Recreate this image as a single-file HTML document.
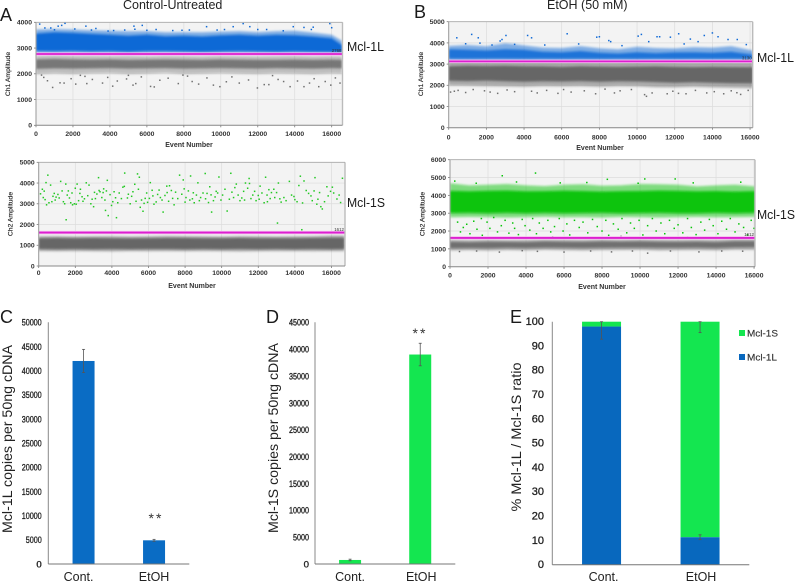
<!DOCTYPE html>
<html lang="en">
<head>
<meta charset="utf-8">
<title>Mcl-1L and Mcl-1S droplet digital PCR</title>
<style>
  html, body { margin: 0; padding: 0; background: #fff; }
  #figure { display: block; width: 796px; height: 582px; overflow: hidden; filter: blur(0.3px); }
  text { font-family: "Liberation Sans", sans-serif; fill: #222; }
  .panel-letter { font-size: 18px; fill: #1a1a1a; }
  .panel-title { font-size: 12.5px; }
  .target { font-size: 13px; fill: #1a1a1a; }
  .scatter-x-title { font-size: 7px; font-weight: bold; fill: #333; text-anchor: middle; }
  .scatter-y-title { font-size: 6.8px; fill: #222; text-anchor: middle; stroke: #222; stroke-width: 0.15; }
  .bar-y-title { font-size: 14px; fill: #222; text-anchor: middle; }
  .stars { font-size: 14px; letter-spacing: 2px; text-anchor: middle; fill: #333; }
  .legend-text { font-size: 9.6px; fill: #333; stroke: #333; stroke-width: 0.15; }
</style>
</head>
<body>
<svg id="figure" xmlns="http://www.w3.org/2000/svg" width="796" height="582" viewBox="0 0 796 582">
  <defs>
    <filter id="band-soft" x="-5%" y="-30%" width="110%" height="160%">
      <feGaussianBlur stdDeviation="1.1"/>
    </filter>
  </defs>
  <rect x="0" y="0" width="796" height="582" fill="#ffffff"/>

  <text class="panel-title" x="123" y="9">Control-Untreated</text>
  <text class="panel-title" x="547" y="9">EtOH (50 mM)</text>
  <text class="panel-letter" x="0" y="21">A</text>
  <text class="panel-letter" x="414" y="18">B</text>
  <text class="panel-letter" x="0" y="323">C</text>
  <text class="panel-letter" x="266" y="323">D</text>
  <text class="panel-letter" x="510" y="323">E</text>

  <text class="target" x="347" y="51" textLength="37" lengthAdjust="spacingAndGlyphs">Mcl-1L</text>
  <text class="target" x="347" y="207" textLength="38" lengthAdjust="spacingAndGlyphs">Mcl-1S</text>
  <text class="target" x="757" y="62" textLength="37" lengthAdjust="spacingAndGlyphs">Mcl-1L</text>
  <text class="target" x="757" y="219" textLength="38" lengthAdjust="spacingAndGlyphs">Mcl-1S</text>

  <text class="scatter-x-title" x="189" y="147">Event Number</text>
  <text class="scatter-x-title" x="192" y="288">Event Number</text>
  <text class="scatter-x-title" x="600" y="150">Event Number</text>
  <text class="scatter-x-title" x="602" y="289">Event Number</text>
  <text class="scatter-y-title" transform="translate(10,74) rotate(-90)">Ch1 Amplitude</text>
  <text class="scatter-y-title" transform="translate(12.5,214) rotate(-90)">Ch2 Amplitude</text>
  <text class="scatter-y-title" transform="translate(423,74) rotate(-90)">Ch1 Amplitude</text>
  <text class="scatter-y-title" transform="translate(424.5,214) rotate(-90)">Ch2 Amplitude</text>

  <text class="bar-y-title" transform="translate(12,439) rotate(-90)" textLength="188" lengthAdjust="spacingAndGlyphs">Mcl-1L copies per 50ng cDNA</text>
  <text class="bar-y-title" transform="translate(278,438) rotate(-90)" textLength="190" lengthAdjust="spacingAndGlyphs">Mcl-1S copies per 50ng cDNA</text>
  <text class="bar-y-title" transform="translate(521,437) rotate(-90)" textLength="149" lengthAdjust="spacingAndGlyphs">% Mcl-1L / Mcl-1S  ratio</text>
  <text class="stars" x="156" y="523">**</text>
  <text class="stars" x="420" y="338">**</text>

  <rect x="739" y="330" width="6" height="6" fill="#14e650"/>
  <text class="legend-text" x="747" y="336.5" textLength="31" lengthAdjust="spacingAndGlyphs">Mcl-1S</text>
  <rect x="739" y="354" width="6" height="6" fill="#0868be"/>
  <text class="legend-text" x="747" y="360.5" textLength="30" lengthAdjust="spacingAndGlyphs">Mcl-1L</text>

  <g id="plots"></g>
</svg>

<script>
// ---------- shared axis ticks ----------
const eventTicks = [0, 2000, 4000, 6000, 8000, 10000, 12000, 14000, 16000];
const ampTicks4000 = [0, 1000, 2000, 3000, 4000];
const ampTicks5000 = [0, 1000, 2000, 3000, 4000, 5000];
const ampTicks6000 = [0, 1000, 2000, 3000, 4000, 5000, 6000];

// ---------- A1: Ch1, control ----------
const a1Events = [0,1000,2000,3000,4000,5000,6000,7000,8000,9000,10000,11000,12000,13000,14000,15000,16000,16550];
const a1BlueCoreTop = [3560,3610,3590,3550,3520,3480,3520,3460,3480,3450,3490,3520,3480,3510,3500,3450,3380,3120];
const a1BlueCoreBottom = [2890,2880,2890,2870,2880,2860,2880,2880,2870,2860,2870,2880,2870,2860,2870,2860,2850,2840];
const a1BlueFringeTop = [3720,3740,3720,3690,3670,3650,3660,3610,3620,3610,3640,3660,3620,3660,3670,3600,3520,3280];
const a1BlueFringeBottom = [2810,2800,2810,2800,2800,2790,2800,2810,2800,2790,2800,2800,2790,2790,2800,2790,2790,2780];
const a1GreyCoreTop = [2560,2580,2560,2550,2560,2540,2550,2560,2550,2540,2560,2550,2540,2540,2550,2540,2550,2540];
const a1GreyCoreBottom = [2190,2210,2200,2210,2220,2200,2210,2220,2200,2210,2220,2210,2200,2220,2210,2200,2220,2210];
const a1GreyFringeTop = [2700,2720,2700,2700,2690,2700,2680,2700,2690,2680,2700,2690,2680,2690,2700,2680,2690,2680];
const a1GreyFringeBottom = [1980,2010,1990,2010,2020,1990,2000,2030,1990,2000,2020,2000,1990,2010,2000,1980,2010,2000];
const a1BlueOutliers = [[200,3930],[1570,3960],[1200,3850],[1390,3880],[2700,3850],[3240,3760],[5300,3850],[5750,3880],[4800,3700],[5350,3730],[9230,3830],[10670,3830],[11210,3950],[11570,3830],[13920,3830],[15900,3950],[16000,3790],[15000,3810],[13380,3670],[12480,3720],[800,3780],[480,3780],[3000,3700],[6500,3720],[7400,3680],[8300,3700],[9800,3700],[12000,3720],[14500,3800],[14900,3720],[2100,3740],[4200,3680],[7900,3690],[10200,3720],[1000,3710],[3900,3660],[6000,3690]];
const a1GreyOutliers = [[900,1470],[620,1730],[420,1860],[1300,1650],[1520,1640],[1900,1810],[2150,1600],[2650,1900],[2750,1620],[3050,1780],[3600,1640],[3880,1860],[4150,1520],[4400,1720],[4900,1800],[5250,1560],[5400,1620],[5700,1880],[6200,1510],[6400,1490],[6700,1750],[7150,1830],[7700,1620],[7950,1950],[8450,1700],[8800,1600],[9250,1840],[9600,1560],[9950,1500],[10300,1690],[10600,1880],[11000,1640],[11500,1760],[11980,1450],[12350,1580],[12600,1580],[13100,1780],[13400,1700],[13750,1500],[14150,1720],[14500,1500],[14800,1640],[15050,1810],[15300,1500],[15650,1700],[15950,1560],[16200,1840],[16450,1640],[300,1950],[2400,1940],[5000,1940],[8200,1910],[12800,1930]];

// ---------- A2: Ch2, control ----------
const a2Events = [0,1000,2000,3000,4000,5000,6000,7000,8000,9000,10000,11000,12000,13000,14000,15000,16000,16700];
const a2GreyCoreTop = [1340,1350,1340,1350,1340,1330,1340,1350,1350,1340,1340,1350,1340,1340,1340,1350,1360,1360];
const a2GreyCoreBottom = [820,810,820,810,820,810,820,820,810,820,810,820,810,820,810,820,810,820];
const a2GreyFringeTop = [1430,1440,1420,1430,1440,1420,1430,1450,1440,1430,1420,1440,1430,1420,1430,1440,1470,1470];
const a2GreyFringeBottom = [720,710,720,710,700,720,710,720,710,720,710,700,710,720,720,710,720,720];
const a2GreenOutliers = [[200,3700],[250,3300],[350,3200],[430,2950],[500,4380],[400,4020],[650,3900],[720,3100],[850,3500],[950,3320],[1050,3450],[1200,4080],[1350,3100],[1420,3000],[1500,2230],[1480,3950],[1620,3620],[1750,3050],[1850,2950],[1950,3000],[2000,3750],[2100,3950],[2180,3150],[2250,3500],[2370,3340],[2500,3240],[2600,4010],[2750,3900],[2850,3000],[3050,3550],[3100,3250],[3270,4260],[3350,3580],[3450,3300],[3550,3720],[3650,2680],[3750,4130],[3800,2430],[3900,3440],[4050,3100],[4200,3290],[4250,2330],[4400,3520],[4600,3800],[4700,4480],[4850,3280],[5000,3000],[5150,3580],[5250,3940],[5400,4440],[5500,4280],[5550,2830],[5700,2640],[5820,3260],[5950,3070],[6100,4020],[6200,3650],[6300,2980],[6500,3450],[6650,3300],[6800,2600],[7000,3850],[7100,3120],[7150,3870],[7250,3640],[7400,2950],[7600,3250],[7700,4380],[7900,4150],[7950,3720],[8050,3300],[8300,4340],[8450,3530],[8500,3050],[8700,4010],[8850,3300],[9100,4460],[9200,3500],[9350,3820],[9450,2600],[9550,3150],[9700,3600],[9850,4290],[10050,3420],[10300,2650],[10500,4470],[10650,3300],[10800,3950],[11000,3150],[11200,3600],[11300,4000],[11500,4220],[11600,3250],[11800,3600],[12000,3400],[12100,3850],[12400,4280],[12500,3100],[12650,3250],[12850,3700],[13050,2070],[13100,4000],[13250,3080],[13400,3300],[13700,4080],[13950,3350],[14000,3200],[14300,4330],[14380,1750],[14500,4100],[14750,3500],[14950,3150],[15100,4260],[15200,2980],[15350,3540],[15500,2750],[15750,3820],[15950,3600],[16050,3800],[16300,3230],[16600,4230],[16500,3060],
  [100,3480],[300,3610],[560,3050],[780,3360],[900,3180],[1120,3280],[1280,3620],[1560,3420],[1680,3280],[1820,3520],[2050,2980],[2280,3700],[2420,3120],[2680,3390],[2920,3220],[3000,2860],[3180,3470],[3300,3640],[3520,3540],[3620,3180],[3700,3620],[3980,2920],[4120,3580],[4320,3050],[4520,3250],[4680,3840],[4900,3460],[5080,3360],[5320,3120],[5450,3700],[5620,3180],[5760,3020],[5900,3520],[6050,3260],[6240,3380],[6420,3090],[6580,3660],[6740,3180],[6900,3400],[7020,3540],[7320,3260],[7480,3560],[7820,3460],[8000,3080],[8180,3620],[8260,3180],[8400,3240],[8620,3420],[8780,3150],[8980,3520],[9120,3240],[9280,3060],[9420,3430],[9640,3330],[9780,3520],[9960,3180],[10180,3700],[10420,3220],[10560,3560],[10720,3780],[10900,3420],[11100,3280],[11250,3180],[11420,3750],[11520,3980],[11700,3420],[11880,3150],[12050,3220],[12200,3520],[12320,3050],[12480,3420],[12580,3680],[12720,3540],[12900,3300],[13000,3540],[13180,3240],[13520,3150],[13820,3420],[14120,3100],[14220,3880],[14420,3040],[14620,3640],[14880,3380],[15050,3620],[15260,3220],[15420,2860],[15620,3100],[15820,3380],[16120,3520],[16420,3420]];

// ---------- B1: Ch1, EtOH ----------
const b1Events = [0,1000,2000,3000,4000,5000,6000,7000,8000,9000,10000,11000,12000,13000,14000,15000,16140];
const b1BlueCoreTop = [3700,3680,3640,3700,3680,3580,3560,3620,3540,3500,3560,3520,3550,3560,3540,3580,3450];
const b1BlueCoreBottom = [3260,3250,3260,3260,3250,3260,3250,3260,3250,3260,3250,3260,3250,3260,3250,3260,3250];
const b1BlueFringeTop = [3860,3900,3840,3980,3880,3780,3760,3850,3750,3700,3820,3760,3740,3800,3780,3850,3640];
const b1BlueFringeBottom = [3170,3170,3170,3170,3170,3170,3170,3170,3170,3170,3170,3170,3170,3170,3170,3170,3170];
const b1GreyCoreTop = [2900,2920,2910,2920,2900,2890,2870,2900,2880,2870,2880,2890,2870,2860,2870,2860,2850];
const b1GreyCoreBottom = [2210,2200,2220,2190,2170,2190,2180,2200,2170,2190,2180,2150,2120,2140,2120,2100,2090];
const b1GreyFringeTop = [3100,3100,3100,3100,3100,3100,3090,3100,3090,3090,3100,3090,3090,3080,3090,3090,3080];
const b1GreyFringeBottom = [1990,1980,1960,1950,1930,1960,1950,1960,1930,1960,1950,1910,1900,1930,1900,1880,1870];
const b1BlueOutliers = [[430,4240],[1220,4400],[1570,4240],[1660,3990],[2730,4090],[3040,4350],[2830,4160],[4190,4350],[4400,4240],[6290,4430],[7860,4270],[8000,4290],[8500,4110],[8600,4060],[10060,4320],[10230,4400],[10620,4060],[11060,4290],[11200,4290],[11770,4270],[12210,4430],[12830,4180],[13240,4060],[13570,4350],[14000,4470],[14300,4290],[14830,4160],[15320,4160],[900,3960],[2300,3900],[3500,3930],[5100,3900],[6900,3950],[9200,3870],[12500,3950],[15800,3920]];
const b1GreyOutliers = [[100,1680],[300,1720],[500,1760],[900,1660],[1300,1800],[1900,1740],[2200,1680],[2600,1620],[3100,1780],[3500,1700],[4400,1720],[4700,1640],[5200,1760],[5800,1620],[6100,1800],[6500,1680],[7200,1740],[7800,1600],[8300,1820],[8800,1640],[9100,1740],[9700,1800],[10400,1560],[10500,1480],[10800,1640],[11600,1600],[11900,1720],[12200,1620],[12600,1600],[13100,1760],[13700,1640],[14100,1700],[14600,1600],[15000,1740],[15300,1650],[15500,1570],[15900,1760]];

// ---------- B2: Ch2, EtOH ----------
const b2Events = [0,1000,2000,3000,4000,5000,6000,7000,8000,9000,10000,11000,12000,13000,14000,15000,16050];
const b2GreenCoreTop = [4250,4220,4250,4270,4220,4230,4260,4240,4210,4230,4240,4270,4250,4220,4240,4210,4240];
const b2GreenCoreBottom = [3010,3020,3000,3020,3000,3030,3000,3010,3020,3000,3010,3020,3000,3000,3020,3000,3020];
const b2GreenFringeTop = [4680,4560,4600,4640,4560,4520,4600,4620,4540,4560,4640,4620,4590,4500,4560,4600,4500];
const b2GreenFringeBottom = [2770,2790,2780,2760,2780,2800,2770,2780,2760,2790,2780,2760,2780,2790,2770,2780,2790];
const b2GreyCoreTop = [1390,1370,1400,1390,1380,1420,1400,1390,1420,1410,1420,1400,1390,1410,1380,1430,1430];
const b2GreyCoreBottom = [1040,1050,1040,1060,1050,1070,1060,1050,1060,1070,1070,1060,1060,1070,1050,1080,1090];
const b2GreyFringeTop = [1510,1490,1510,1490,1500,1520,1520,1500,1530,1510,1540,1510,1500,1520,1500,1550,1540];
const b2GreyFringeBottom = [900,920,890,930,910,940,920,900,930,930,940,900,920,930,910,950,940];
const b2GreenOutliers = [[2750,5100],[4500,5250],[250,4800],[8280,4900],[10250,4920],[11850,4920],[1380,4680],[3500,4750],[5800,4700],[7200,4720],[9900,4680],[12800,4700],[15300,4740],[400,2500],[550,1950],[700,2200],[880,2380],[1050,1850],[1250,2550],[1420,2100],[1650,2700],[1700,1760],[1950,2500],[2100,2150],[2300,2760],[2500,1950],[2700,2300],[2900,2600],[3100,1880],[3300,2450],[3400,2150],[3600,1800],[3800,2650],[3950,2300],[4200,2050],[4350,2700],[4550,1850],[4700,2450],[4900,2150],[5150,2600],[5300,1950],[5500,2250],[5750,2700],[5950,2000],[6150,2400],[6300,1780],[6550,2600],[6800,2200],[7000,2500],[7250,1900],[7500,2650],[7750,2250],[8000,2000],[8200,2600],[8350,1760],[8600,2400],[8850,2100],[9050,2700],[9300,1900],[9500,2450],[9700,2150],[9950,2600],[10150,1780],[10400,2300],[10650,2700],[10850,2000],[11100,2450],[11300,1850],[11550,2600],[11800,2150],[12000,2350],[12250,1900],[12500,2700],[12700,2200],[12950,1800],[13200,2500],[13400,2050],[13650,2650],[13850,2300],[14100,1850],[14300,2550],[14550,2100],[14750,2700],[15000,1950],[15200,2400],[15450,2200],[15650,1780],[15850,2600],[16000,2150]];
const b2GreyOutliers = [[500,850],[1400,880],[2600,820],[3800,900],[4600,860],[6000,820],[7400,880],[8500,830],[9600,880],[10400,760],[11600,880],[13100,830],[14300,880],[15400,870],[2000,1650],[5400,1680],[9000,1700],[12500,1660]];

// ---------- threshold values ----------
const thresholdValues = [2768, 1612, 3130, 1612];

// ---------- C ----------
const barCategories = ['Cont.', 'EtOH'];
const cTicks = [0,5000,10000,15000,20000,25000,30000,35000,40000,45000,50000];
const cValues = [42000, 4900];
const cErrors = [2400, 200];
// ---------- D ----------
const dTicks = [0,5000,10000,15000,20000,25000,30000,35000,40000,45000];
const dValues = [750, 39000];
const dErrors = [150, 2100];
// ---------- E ----------
const eTicks = [0,10,20,30,40,50,60,70,80,90,100];
const eLongValues = [98, 11.3];
const eShortValues = [2, 88.7];
const eLongErrors = [5.2, 1];
const eShortErrors = [0, 4.5];

const SVG_NS = 'http://www.w3.org/2000/svg';
const root = document.getElementById('plots');

function mk(tag, attrs, parent, text) {
  const el = document.createElementNS(SVG_NS, tag);
  for (const k in attrs) el.setAttribute(k, attrs[k]);
  if (text !== undefined) el.textContent = text;
  (parent || root).appendChild(el);
  return el;
}

function linear(d0, d1, r0, r1) {
  return function (v) { return r0 + (v - d0) / (d1 - d0) * (r1 - r0); };
}

function drawBand(parent, name, events, top, bottom, x, y, color, opacity) {
  const upper = events.map(function (e, i) { return x(e).toFixed(1) + ',' + y(top[i]).toFixed(1); });
  const lower = events.map(function (e, i) { return x(e).toFixed(1) + ',' + y(bottom[i]).toFixed(1); }).reverse();
  const band = mk('polygon', { points: upper.concat(lower).join(' '), fill: color, opacity: opacity, filter: 'url(#band-soft)' }, parent);
  
  
}

function drawPoints(parent, name, points, x, y, color) {
  points.forEach(function (p) {
    const dot = mk('rect', { x: (x(p[0]) - 0.75).toFixed(2), y: (y(p[1]) - 0.75).toFixed(2), width: 1.5, height: 1.5, fill: color }, parent);
    
    
  });
}

function scatterFrame(id, box, xMax, yMax, yTicks, xLabelY) {
  const g = mk('g', {});
  
  
  const x = linear(0, xMax, box.l, box.r);
  const y = linear(0, yMax, box.b, box.t);
  const clip = mk('clipPath', { id: id + '-clip' }, g);
  mk('rect', { x: box.l, y: box.t, width: box.r - box.l, height: box.b - box.t }, clip);
  const bg = mk('rect', { x: box.l, y: box.t, width: box.r - box.l, height: box.b - box.t, fill: '#f3f3f3' }, g);
  
  
  eventTicks.forEach(function (t) {
    const grid = mk('line', { x1: x(t), x2: x(t), y1: box.t, y2: box.b, stroke: '#dcdcdc', 'stroke-width': 0.7 }, g);
    
    
    const tick = mk('line', { x1: x(t), x2: x(t), y1: box.b, y2: box.b + 2, stroke: '#777', 'stroke-width': 0.8 }, g);
    
    
    const label = mk('text', { x: x(t), y: xLabelY, 'font-size': 6.8, 'font-weight': 'bold', 'text-anchor': 'middle', style: 'fill:#333' }, g, String(t));
    
    
  });
  yTicks.forEach(function (t) {
    const grid = mk('line', { x1: box.l, x2: box.r, y1: y(t), y2: y(t), stroke: '#dcdcdc', 'stroke-width': 0.7 }, g);
    
    
    const tick = mk('line', { x1: box.l - 2, x2: box.l, y1: y(t), y2: y(t), stroke: '#777', 'stroke-width': 0.8 }, g);
    
    
    const label = mk('text', { x: box.l - 4, y: y(t) + 2.4, 'font-size': 6.8, 'font-weight': 'bold', 'text-anchor': 'end', style: 'fill:#333' }, g, String(t));
    
    
  });
  const bands = mk('g', { 'clip-path': 'url(#' + id + '-clip)' }, g);
  
  
  return { g: g, bands: bands, x: x, y: y };
}

function scatterFinish(id, f, box, threshold) {
  const halo = mk('line', { x1: box.l, x2: box.r, y1: f.y(threshold), y2: f.y(threshold), stroke: '#f6b8f0', 'stroke-width': 3.4 }, f.g);
  
  
  const line = mk('line', { x1: box.l, x2: box.r, y1: f.y(threshold), y2: f.y(threshold), stroke: '#dc1fd0', 'stroke-width': 1.8 }, f.g);
  
  
  const value = mk('text', { x: box.r - 1, y: f.y(threshold) - 1.8, 'font-size': 4.4, 'text-anchor': 'end', style: 'fill:#333' }, f.g, String(threshold));
  
  
  const left = mk('line', { x1: box.l, x2: box.l, y1: box.t, y2: box.b, stroke: '#999', 'stroke-width': 1 }, f.g);
  
  
  const right = mk('line', { x1: box.r, x2: box.r, y1: box.t, y2: box.b, stroke: '#bbb', 'stroke-width': 1.4 }, f.g);
  
  
  const top = mk('line', { x1: box.l, x2: box.r, y1: box.t, y2: box.t, stroke: '#aaa', 'stroke-width': 0.8 }, f.g);
  
  
  const bottom = mk('line', { x1: box.l, x2: box.r, y1: box.b, y2: box.b, stroke: '#888', 'stroke-width': 1 }, f.g);
  
  
}

const BLUE = '#0f69d6', GREY = '#707070', GREEN = '#08c408', DOTGREEN = '#22c822';

// A1
(function () {
  const box = { l: 36, r: 342.5, t: 22.3, b: 125.3 };
  const f = scatterFrame('a1', box, 16585, 4000, ampTicks4000, 136);
  drawBand(f.bands, 'a1-grey-cloud-fringe', a1Events, a1GreyFringeTop, a1GreyFringeBottom, f.x, f.y, GREY, 0.4);
  drawBand(f.bands, 'a1-grey-cloud', a1Events, a1GreyCoreTop, a1GreyCoreBottom, f.x, f.y, GREY, 0.9);
  drawBand(f.bands, 'a1-blue-cloud-fringe', a1Events, a1BlueFringeTop, a1BlueFringeBottom, f.x, f.y, BLUE, 0.5);
  drawBand(f.bands, 'a1-blue-cloud', a1Events, a1BlueCoreTop, a1BlueCoreBottom, f.x, f.y, BLUE, 1);
  drawPoints(f.g, 'a1-grey-droplet', a1GreyOutliers, f.x, f.y, GREY);
  drawPoints(f.g, 'a1-blue-droplet', a1BlueOutliers, f.x, f.y, BLUE);
  scatterFinish('a1', f, box, thresholdValues[0]);
})();

// A2
(function () {
  const box = { l: 38.7, r: 345, t: 162.3, b: 266 };
  const f = scatterFrame('a2', box, 16740, 5000, ampTicks5000, 275);
  drawBand(f.bands, 'a2-grey-cloud-fringe', a2Events, a2GreyFringeTop, a2GreyFringeBottom, f.x, f.y, '#666', 0.5);
  drawBand(f.bands, 'a2-grey-cloud', a2Events, a2GreyCoreTop, a2GreyCoreBottom, f.x, f.y, '#666', 1);
  drawPoints(f.g, 'a2-green-droplet', a2GreenOutliers, f.x, f.y, DOTGREEN);
  scatterFinish('a2', f, box, thresholdValues[1]);
})();

// B1
(function () {
  const box = { l: 448.7, r: 752.7, t: 21.7, b: 127.7 };
  const f = scatterFrame('b1', box, 16140, 5000, ampTicks5000, 139.5);
  drawBand(f.bands, 'b1-grey-cloud-fringe', b1Events, b1GreyFringeTop, b1GreyFringeBottom, f.x, f.y, GREY, 0.55);
  drawBand(f.bands, 'b1-grey-cloud', b1Events, b1GreyCoreTop, b1GreyCoreBottom, f.x, f.y, '#666', 1);
  drawBand(f.bands, 'b1-blue-cloud-fringe', b1Events, b1BlueFringeTop, b1BlueFringeBottom, f.x, f.y, BLUE, 0.5);
  drawBand(f.bands, 'b1-blue-cloud', b1Events, b1BlueCoreTop, b1BlueCoreBottom, f.x, f.y, BLUE, 0.85);
  drawPoints(f.g, 'b1-grey-droplet', b1GreyOutliers, f.x, f.y, GREY);
  drawPoints(f.g, 'b1-blue-droplet', b1BlueOutliers, f.x, f.y, BLUE);
  scatterFinish('b1', f, box, thresholdValues[2]);
})();

// B2
(function () {
  const box = { l: 450, r: 755, t: 159.7, b: 266.7 };
  const f = scatterFrame('b2', box, 16050, 6000, ampTicks6000, 277.5);
  drawBand(f.bands, 'b2-grey-cloud-fringe', b2Events, b2GreyFringeTop, b2GreyFringeBottom, f.x, f.y, GREY, 0.5);
  drawBand(f.bands, 'b2-grey-cloud', b2Events, b2GreyCoreTop, b2GreyCoreBottom, f.x, f.y, GREY, 1);
  drawBand(f.bands, 'b2-green-cloud-fringe', b2Events, b2GreenFringeTop, b2GreenFringeBottom, f.x, f.y, GREEN, 0.5);
  drawBand(f.bands, 'b2-green-cloud', b2Events, b2GreenCoreTop, b2GreenCoreBottom, f.x, f.y, GREEN, 1);
  drawPoints(f.g, 'b2-grey-droplet', b2GreyOutliers, f.x, f.y, GREY);
  drawPoints(f.g, 'b2-green-droplet', b2GreenOutliers, f.x, f.y, GREEN);
  scatterFinish('b2', f, box, thresholdValues[3]);
})();

// ---------- bar charts ----------
function barAxes(id, box, ticks, yMax, labelEnd, condensed) {
  const g = mk('g', {});
  
  
  const y = linear(0, yMax, box.b, box.t);
  const band = (box.r - box.l) / barCategories.length;
  const cx = function (i) { return box.l + (i + 0.5) * band; };
  ticks.forEach(function (t) {
    const attrs = { x: labelEnd, y: y(t) + 3.4, 'font-size': condensed ? 9.6 : 11, 'text-anchor': 'end', style: 'fill:#222;stroke:#222;stroke-width:' + (condensed ? 0.35 : 0.3) };
    if (condensed && String(t).length === 5) { attrs.textLength = 20; attrs.lengthAdjust = 'spacingAndGlyphs'; }
    if (condensed && String(t).length === 4) { attrs.textLength = 16; attrs.lengthAdjust = 'spacingAndGlyphs'; }
    const label = mk('text', attrs, g, String(t));
    
    
  });
  return { g: g, y: y, cx: cx };
}

function barFinish(id, a, box, labelDx) {
  const yAxis = mk('line', { x1: box.l, x2: box.l, y1: box.t, y2: box.b, stroke: '#888', 'stroke-width': 1 }, a.g);
  
  
  const xAxis = mk('line', { x1: box.l, x2: box.r, y1: box.b, y2: box.b, stroke: '#777', 'stroke-width': 1 }, a.g);
  
  
  barCategories.forEach(function (c, i) {
    const label = mk('text', { x: a.cx(i) + labelDx[i], y: 581, 'font-size': 12.5, 'text-anchor': 'middle' }, a.g, c);
    
    
  });
}

function drawError(id, a, i, low, high) {
  const x = a.cx(i);
  const whisker = mk('line', { x1: x, x2: x, y1: a.y(low), y2: a.y(high), stroke: '#555', 'stroke-width': 0.8 }, a.g);
  
  
  [low, high].forEach(function (v) {
    const cap = mk('line', { x1: x - 1.5, x2: x + 1.5, y1: a.y(v), y2: a.y(v), stroke: '#555', 'stroke-width': 0.8 }, a.g);
    
    
  });
}

// C
(function () {
  const box = { l: 48.3, r: 189.3, t: 322.3, b: 564 };
  const a = barAxes('c', box, cTicks, 50000, 41.7, true);
  cValues.forEach(function (v, i) {
    const bar = mk('rect', { x: a.cx(i) - 11, y: a.y(v), width: 22, height: box.b - a.y(v), fill: '#0a6cc4' }, a.g);
    
    
    drawError('c', a, i, v - cErrors[i], v + cErrors[i]);
  });
  barFinish('c', a, box, [-5, 0]);
})();

// D
(function () {
  const box = { l: 315, r: 455.3, t: 322.3, b: 564 };
  const a = barAxes('d', box, dTicks, 45000, 309, true);
  dValues.forEach(function (v, i) {
    const bar = mk('rect', { x: a.cx(i) - 11, y: a.y(v), width: 22, height: box.b - a.y(v), fill: '#14e650' }, a.g);
    
    
    drawError('d', a, i, v - dErrors[i], v + dErrors[i]);
  });
  barFinish('d', a, box, [0, 1]);
})();

// E
(function () {
  const box = { l: 552.3, r: 749.3, t: 321.7, b: 564.7 };
  const a = barAxes('e', box, eTicks, 100, 544, false);
  barCategories.forEach(function (c, i) {
    const key = c.toLowerCase().replace('.', '');
    const L = eLongValues[i], S = eShortValues[i];
    const barS = mk('rect', { x: a.cx(i) - 19.5, y: a.y(L + S), width: 39, height: a.y(L) - a.y(L + S), fill: '#14e650' }, a.g);
    
    
    const barL = mk('rect', { x: a.cx(i) - 19.5, y: a.y(L), width: 39, height: box.b - a.y(L), fill: '#0868be' }, a.g);
    
    
    drawError('e', a, i, L - eLongErrors[i], Math.min(100, L + eLongErrors[i]));
    if (eShortErrors[i] > 0) drawError('e', a, i, L + S - eShortErrors[i], Math.min(100, L + S));
  });
  barFinish('e', a, box, [2, 1]);
})();
</script>
</body>
</html>
